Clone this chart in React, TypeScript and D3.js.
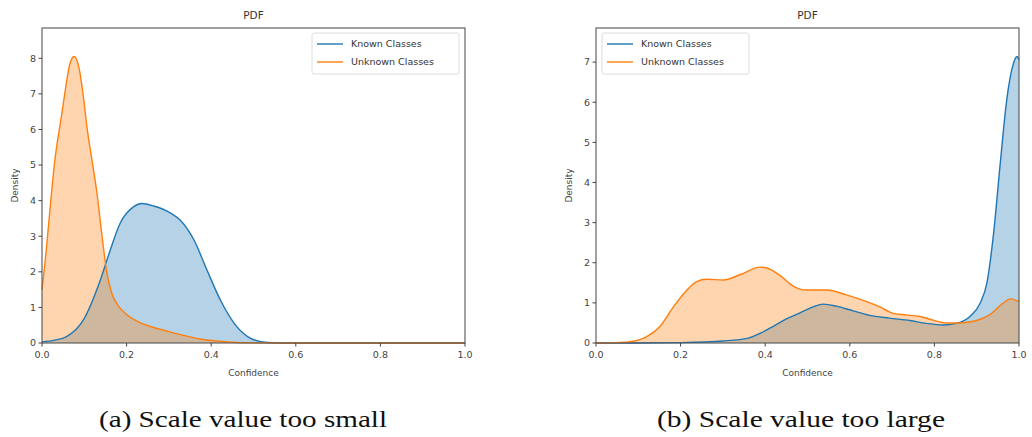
import React from "react";
import * as d3 from "d3";

// density curves, as [confidence, density]
const knownSmall: [number, number][] = [
  [0, 0.03], [0.03, 0.08], [0.058, 0.18], [0.098, 0.65], [0.138, 1.77], [0.161, 2.6],
  [0.185, 3.37], [0.217, 3.83], [0.236, 3.92], [0.264, 3.85], [0.304, 3.65], [0.327, 3.45],
  [0.359, 2.9], [0.39, 2.05], [0.422, 1.2], [0.454, 0.56], [0.486, 0.18], [0.517, 0.04],
  [0.55, 0.005], [0.6, 0], [0.8, 0], [1.0, 0],
];
const unknownSmall: [number, number][] = [
  [0, 1.5], [0.01, 2.6], [0.02, 3.9], [0.03, 5.1], [0.045, 6.3], [0.055, 7.1], [0.065, 7.8],
  [0.076, 8.05], [0.088, 7.7], [0.097, 7.0], [0.107, 6.0], [0.12, 5.0], [0.13, 4.2],
  [0.142, 3.0], [0.153, 2.0], [0.165, 1.4], [0.18, 1.05], [0.2, 0.8], [0.23, 0.58],
  [0.26, 0.45], [0.3, 0.32], [0.34, 0.2], [0.38, 0.1], [0.42, 0.05], [0.46, 0.015],
  [0.5, 0.003], [0.6, 0], [0.8, 0], [1.0, 0],
];
const knownLarge: [number, number][] = [
  [0, 0], [0.1, 0], [0.2, 0.01], [0.3, 0.05], [0.36, 0.12], [0.39, 0.25], [0.42, 0.42],
  [0.45, 0.6], [0.482, 0.75], [0.513, 0.9], [0.537, 0.97], [0.568, 0.92], [0.608, 0.8],
  [0.647, 0.69], [0.694, 0.62], [0.742, 0.56], [0.781, 0.49], [0.82, 0.45], [0.852, 0.49],
  [0.884, 0.66], [0.908, 0.99], [0.924, 1.49], [0.94, 2.74], [0.955, 4.4], [0.971, 6.06],
  [0.987, 6.97], [0.995, 7.14], [1.0, 7.06],
];
const unknownLarge: [number, number][] = [
  [0, 0], [0.05, 0.01], [0.08, 0.03], [0.12, 0.16], [0.15, 0.4], [0.183, 0.9], [0.215, 1.32],
  [0.238, 1.53], [0.262, 1.59], [0.301, 1.57], [0.34, 1.7], [0.388, 1.89], [0.404, 1.87],
  [0.435, 1.68], [0.466, 1.42], [0.498, 1.32], [0.545, 1.32], [0.592, 1.2], [0.64, 1.03],
  [0.671, 0.9], [0.703, 0.74], [0.734, 0.7], [0.766, 0.66], [0.797, 0.57], [0.829, 0.5],
  [0.86, 0.5], [0.9, 0.56], [0.93, 0.7], [0.962, 0.99], [0.98, 1.1], [1.0, 1.03],
];

const seriesNames = ["Known Classes", "Unknown Classes"];
const xTicks = [0, 0.2, 0.4, 0.6, 0.8, 1.0];
const yTicksSmall = [0, 1, 2, 3, 4, 5, 6, 7, 8];
const yTicksLarge = [0, 1, 2, 3, 4, 5, 6, 7];
const captions = ["(a) Scale value too small", "(b) Scale value too large"];

const colors = ["#1f77b4", "#ff7f0e"];
const font = "DejaVu Sans, sans-serif";
const ink = "#444";

type PanelProps = {
  left: number;
  series: [number, number][][];
  yMax: number;
  yTicks: number[];
  legendLeft: boolean;
  caption: string;
  captionX: number;
};

function Panel({ left, series, yMax, yTicks, legendLeft, caption, captionX }: PanelProps) {
  const top = 28;
  const w = 423;
  const h = 315;
  const x = d3.scaleLinear().domain([0, 1]).range([0, w]);
  const y = d3.scaleLinear().domain([0, yMax]).range([h, 0]);
  const area = d3
    .area<[number, number]>()
    .x((d) => x(d[0]))
    .y0(h)
    .y1((d) => y(d[1]))
    .curve(d3.curveMonotoneX);
  const line = d3
    .line<[number, number]>()
    .x((d) => x(d[0]))
    .y((d) => y(d[1]))
    .curve(d3.curveMonotoneX);

  const legX = legendLeft ? 6 : w - 153;

  return (
    <g>
      <g transform={`translate(${left},${top})`}>
        {series.map((s, i) => (
          <path key={"a" + i} d={area(s) ?? ""} fill={colors[i]} fillOpacity={0.33} stroke="none" />
        ))}
        {series.map((s, i) => (
          <path key={"l" + i} d={line(s) ?? ""} fill="none" stroke={colors[i]} strokeWidth={1.4} />
        ))}
        <rect x={0} y={0} width={w} height={h} fill="none" stroke="#555" strokeWidth={1.1} />

        {xTicks.map((t) => (
          <g key={"x" + t} transform={`translate(${x(t)},${h})`}>
            <line y2={3.5} stroke={ink} />
            <text y={15} textAnchor="middle" fontSize={9.5} fill={ink} fontFamily={font}>
              {t.toFixed(1)}
            </text>
          </g>
        ))}
        {yTicks.map((t) => (
          <g key={"y" + t} transform={`translate(0,${y(t)})`}>
            <line x2={-3.5} stroke={ink} />
            <text x={-6} dy="0.35em" textAnchor="end" fontSize={9.5} fill={ink} fontFamily={font}>
              {t}
            </text>
          </g>
        ))}

        <text x={w / 2} y={-9} textAnchor="middle" fontSize={10.5} fill="#333" fontFamily={font}>
          PDF
        </text>
        <text x={w / 2} y={h + 33} textAnchor="middle" fontSize={9} fill={ink} fontFamily={font}>
          Confidence
        </text>
        <text
          transform={`translate(-24,${h / 2}) rotate(-90)`}
          textAnchor="middle"
          fontSize={9}
          fill={ink}
          fontFamily={font}
        >
          Density
        </text>

        <g transform={`translate(${legX},5)`}>
          <rect width={147} height={41} rx={2} fill="#fff" fillOpacity={0.8} stroke="#ddd" />
          {seriesNames.map((n, i) => (
            <g key={n} transform={`translate(0,${11 + i * 18})`}>
              <line x1={5} x2={31} stroke={colors[i]} strokeWidth={1.4} />
              <text x={39} dy="0.35em" fontSize={9.5} fill="#333" fontFamily={font}>
                {n}
              </text>
            </g>
          ))}
        </g>
      </g>
      <text
        x={captionX}
        y={427}
        textAnchor="middle"
        fontSize={24}
        textLength={288}
        lengthAdjust="spacingAndGlyphs"
        fill="#111"
        fontFamily="Liberation Serif, DejaVu Serif, serif"
      >
        {caption}
      </text>
    </g>
  );
}

export default function App() {
  return (
    <svg
      width={1032}
      height={437}
      style={{ position: "absolute", left: 0, top: 0, background: "#fff" }}
    >
      <rect width={1032} height={437} fill="#fff" />
      <Panel
        left={42}
        series={[knownSmall, unknownSmall]}
        yMax={8.85}
        yTicks={yTicksSmall}
        legendLeft={false}
        caption={captions[0]}
        captionX={243}
      />
      <Panel
        left={596}
        series={[knownLarge, unknownLarge]}
        yMax={7.85}
        yTicks={yTicksLarge}
        legendLeft={true}
        caption={captions[1]}
        captionX={801}
      />
    </svg>
  );
}
